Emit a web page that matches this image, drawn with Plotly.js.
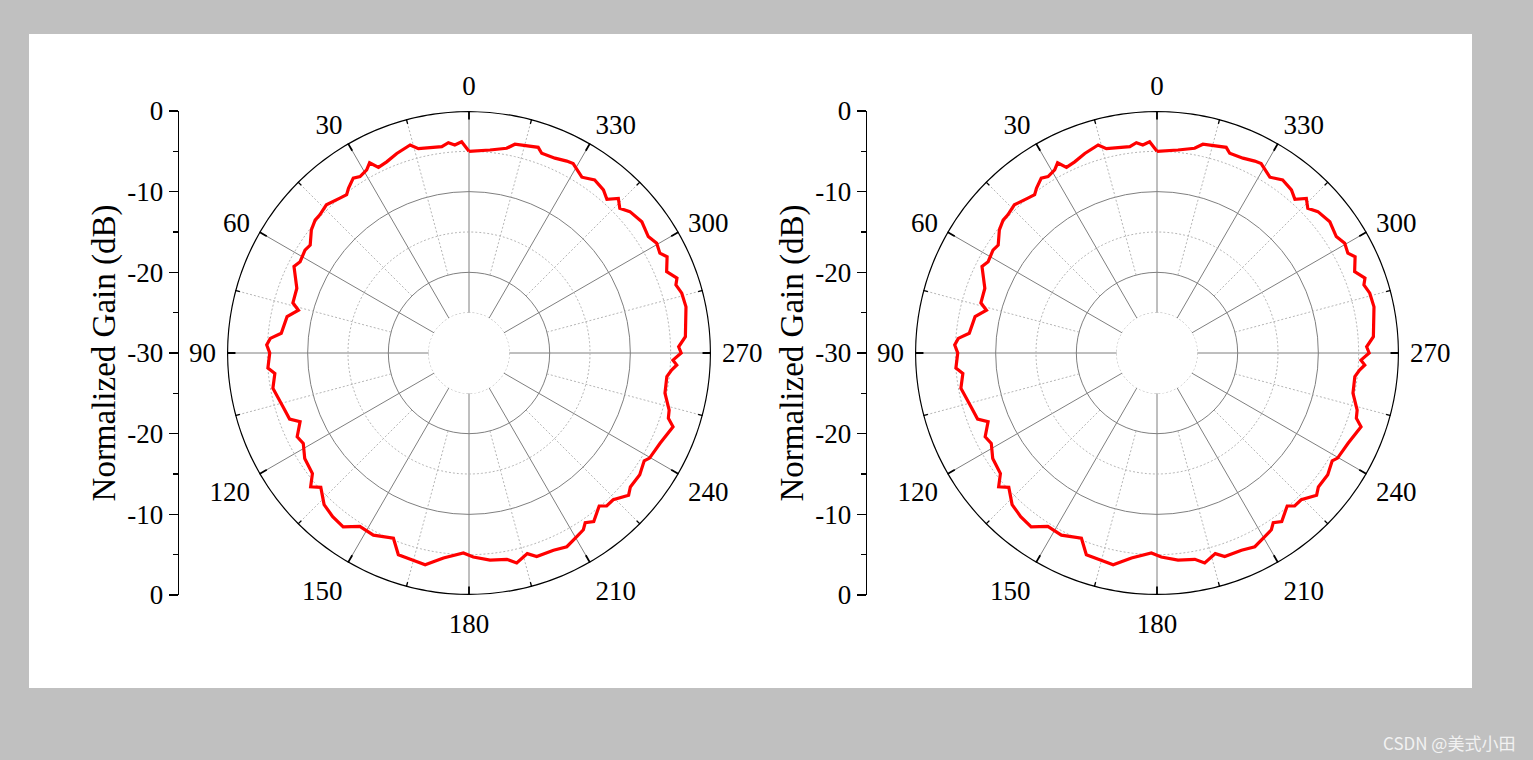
<!DOCTYPE html>
<html>
<head>
<meta charset="utf-8">
<script src="https://cdn.plot.ly/plotly-3.0.1.min.js"></script>
<style>
html,body{margin:0;padding:0;background:#c0c0c0;}
#chart{width:1533px;height:760px;}
</style>
</head>
<body>
<div id="chart"></div>
<script>
// Measured radiation pattern (angle in degrees, counter-clockwise from top; gain in dB)
const angleDeg = [0,2,3.9,5.6,7.5,13.9,15.8,19.9,23.3,26,27.6,29.2,31.7,33.5,36.2,37.7,39.8,43.9,47.2,49.2,
  52,55.8,57.9,61.6,63.7,69.4,74.1,75.9,78.7,84,85.8,87.7,90,94.3,96,100.2,106.1,110.2,112.1,116,
  118.6,122.7,127.6,130.2,132.2,136.3,140.2,144.1,147.8,152.3,157.8,160.7,164.9,168.3,172.9,178.4,181.2,185.8,190.4,192.8,
  196.2,198.4,203.2,206.8,210.4,212.9,214.4,216.5,220.4,222,224.5,228.3,230.3,234.5,238.4,239.8,244.7,250.1,251.9,254.1,
  258.4,263.2,265.2,266.7,268,270,271.7,274.3,282,285.7,288.2,289.8,292.4,295.9,297.6,300.3,303,307.2,311.3,313.8,
  316,318.1,320.5,324,327.3,331.2,333,336.2,340,341.4,347.6,349.6,354.1,360];
const gainLeft = [-5.0,-3.8,-4.15,-3.8,-4.2,-3.9,-3.2,-3.7,-4.2,-4.4,-3.4,-4.0,-4.3,-4.0,-4.7,-5.2,-5.0,-4.5,-4.8,-4.8,
  -5.2,-6.2,-6.0,-6.2,-5.8,-7.2,-7.3,-8.2,-7.0,-6.6,-5.3,-4.9,-5.3,-5.0,-5.8,-5.3,-6.0,-6.3,-7.4,-6.3,
  -6.6,-5.8,-5.5,-4.3,-5.2,-4.0,-3.6,-3.4,-4.6,-4.5,-5.2,-3.5,-3.4,-3.2,-4.4,-5.2,-4.7,-4.2,-4.0,-3.3,
  -4.1,-3.4,-3.4,-3.1,-3.6,-3.9,-4.5,-4.0,-5.1,-4.5,-4.5,-3.5,-4.0,-4.0,-4.5,-4.1,-3.8,-3.1,-4.0,-4.2,
  -5.2,-5.3,-4.8,-4.2,-4.7,-3.7,-4.0,-3.1,-2.5,-2.6,-3.0,-2.6,-3.5,-2.7,-3.3,-3.05,-3.5,-3.1,-3.45,-4.1,
  -3.35,-4.4,-3.8,-3.5,-4.1,-3.2,-3.3,-3.6,-3.65,-3.1,-3.5,-4.2,-4.7,-5.0];
const gainRight = gainLeft.slice();

// Axis tick definitions
const angTickVals = [0,30,60,90,120,150,180,210,240,270,300,330];
const angMinorVals = [15,45,75,105,135,165,195,225,255,285,315,345];
const radialRange = [-25, 0];
const radialSolid = [-20, -10];
const radialDotted = [-25, -15, -5];
const sideTickVals = [-30,-20,-10,0,10,20,30];
const sideTickText = ['0','-10','-20','-30','-20','-10','0'];

const W = 1533, H = 760;
const FONT = 'Liberation Serif, Times New Roman, serif';
const R = 242;
const centers = [469, 1157];
const cy = 353;

const traces = [];
const fullCircle = [];
for (let a = 0; a <= 360; a += 1) fullCircle.push(a);

function addPolarDecor(sub) {
  radialDotted.forEach(rv => {
    traces.push({type:'scatterpolar', subplot:sub, mode:'lines', theta:fullCircle,
      r:fullCircle.map(() => rv), line:{color:'#b5b5b5', width:1, dash:'2px,2px'},
      hoverinfo:'skip', showlegend:false, cliponaxis:false});
  });
  angMinorVals.forEach(a => {
    traces.push({type:'scatterpolar', subplot:sub, mode:'lines', theta:[a,a],
      r:[-20, 0], line:{color:'#b5b5b5', width:1, dash:'2px,2px'},
      hoverinfo:'skip', showlegend:false});
    traces.push({type:'scatterpolar', subplot:sub, mode:'lines', theta:[a,a],
      r:[-0.6, 0], line:{color:'#000', width:1.3},
      hoverinfo:'skip', showlegend:false, cliponaxis:false});
  });
  angTickVals.forEach(a => {
    traces.push({type:'scatterpolar', subplot:sub, mode:'lines', theta:[a,a],
      r:[-1.05, 0], line:{color:'#000', width:1.8},
      hoverinfo:'skip', showlegend:false, cliponaxis:false});
  });
  // outer boundary circle at 0 dB
  traces.push({type:'scatterpolar', subplot:sub, mode:'lines', theta:fullCircle,
    r:fullCircle.map(() => radialRange[1]), line:{color:'#000', width:2.4},
    hoverinfo:'skip', showlegend:false, cliponaxis:false});
}
addPolarDecor('polar');
addPolarDecor('polar2');

traces.push({type:'scatterpolar', subplot:'polar', mode:'lines', theta:angleDeg, r:gainLeft,
  line:{color:'#ff0000', width:3.2}, showlegend:false, cliponaxis:false});
traces.push({type:'scatterpolar', subplot:'polar2', mode:'lines', theta:angleDeg, r:gainRight,
  line:{color:'#ff0000', width:3.2}, showlegend:false, cliponaxis:false});

// Dummy traces so the side gain axes are drawn
traces.push({type:'scatter', x:[0], y:[0], xaxis:'x', yaxis:'y', mode:'markers',
  marker:{opacity:0}, hoverinfo:'skip', showlegend:false});
traces.push({type:'scatter', x:[0], y:[0], xaxis:'x2', yaxis:'y2', mode:'markers',
  marker:{opacity:0}, hoverinfo:'skip', showlegend:false});

function polarLayout(cx) {
  return {
    domain:{x:[(cx - R)/W, (cx + R)/W], y:[(H - cy - R)/H, (H - cy + R)/H]},
    hole: 1/6,
    bgcolor:'#ffffff',
    radialaxis:{range:radialRange, tickvals:radialSolid, showticklabels:false, ticks:'',
      showline:false, gridcolor:'#7f7f7f', gridwidth:1},
    angularaxis:{rotation:90, direction:'counterclockwise', tickvals:angTickVals,
      ticktext:angTickVals.map(String), ticks:'outside', ticklen:5, tickwidth:1, tickcolor:'rgba(0,0,0,0)',
      showline:false, gridcolor:'#7f7f7f', gridwidth:1,
      tickfont:{family:FONT, size:27, color:'#000'}}
  };
}

function sideY(xName) {
  return {
    anchor:xName, domain:[(H - cy - R)/H, (H - cy + R)/H], range:[-30,30],
    tickvals:sideTickVals, ticktext:sideTickText, ticks:'outside', ticklen:9, tickwidth:1.3,
    tickcolor:'#000', showline:true, linecolor:'#000', linewidth:1.3, showgrid:false, zeroline:false,
    minor:{dtick:5, tick0:0, ticks:'outside', ticklen:5, tickwidth:1.3, tickcolor:'#000', showgrid:false},
    tickfont:{family:FONT, size:27, color:'#000'},
    title:{text:'Normalized Gain (dB)', font:{family:FONT, size:33, color:'#000'}, standoff:1},
    fixedrange:true
  };
}
function sideX(yName, px) {
  return {anchor:yName, domain:[px/W, (px+20)/W], visible:false, range:[0,1], fixedrange:true};
}

const layout = {
  width:W, height:H, margin:{l:0, r:0, t:0, b:0},
  paper_bgcolor:'#c0c0c0', plot_bgcolor:'rgba(0,0,0,0)',
  showlegend:false,
  polar: polarLayout(centers[0]),
  polar2: polarLayout(centers[1]),
  xaxis: sideX('y', 179),
  yaxis: sideY('x'),
  xaxis2: sideX('y2', 867),
  yaxis2: sideY('x2'),
  shapes:[{type:'rect', xref:'paper', yref:'paper', x0:29/W, x1:1472/W, y0:(H-688)/H, y1:(H-34)/H,
    fillcolor:'#ffffff', line:{width:0}, layer:'below'}],
  annotations:[{xref:'paper', yref:'paper', x:1517/W, y:(H-742)/H, xanchor:'right', yanchor:'middle',
    text:'CSDN @美式小田', showarrow:false,
    font:{family:'Noto Sans CJK SC, Noto Sans, sans-serif', size:17, color:'#f2f2f2'}}]
};

Plotly.newPlot('chart', traces, layout, {displayModeBar:false, staticPlot:true});
</script>
</body>
</html>
